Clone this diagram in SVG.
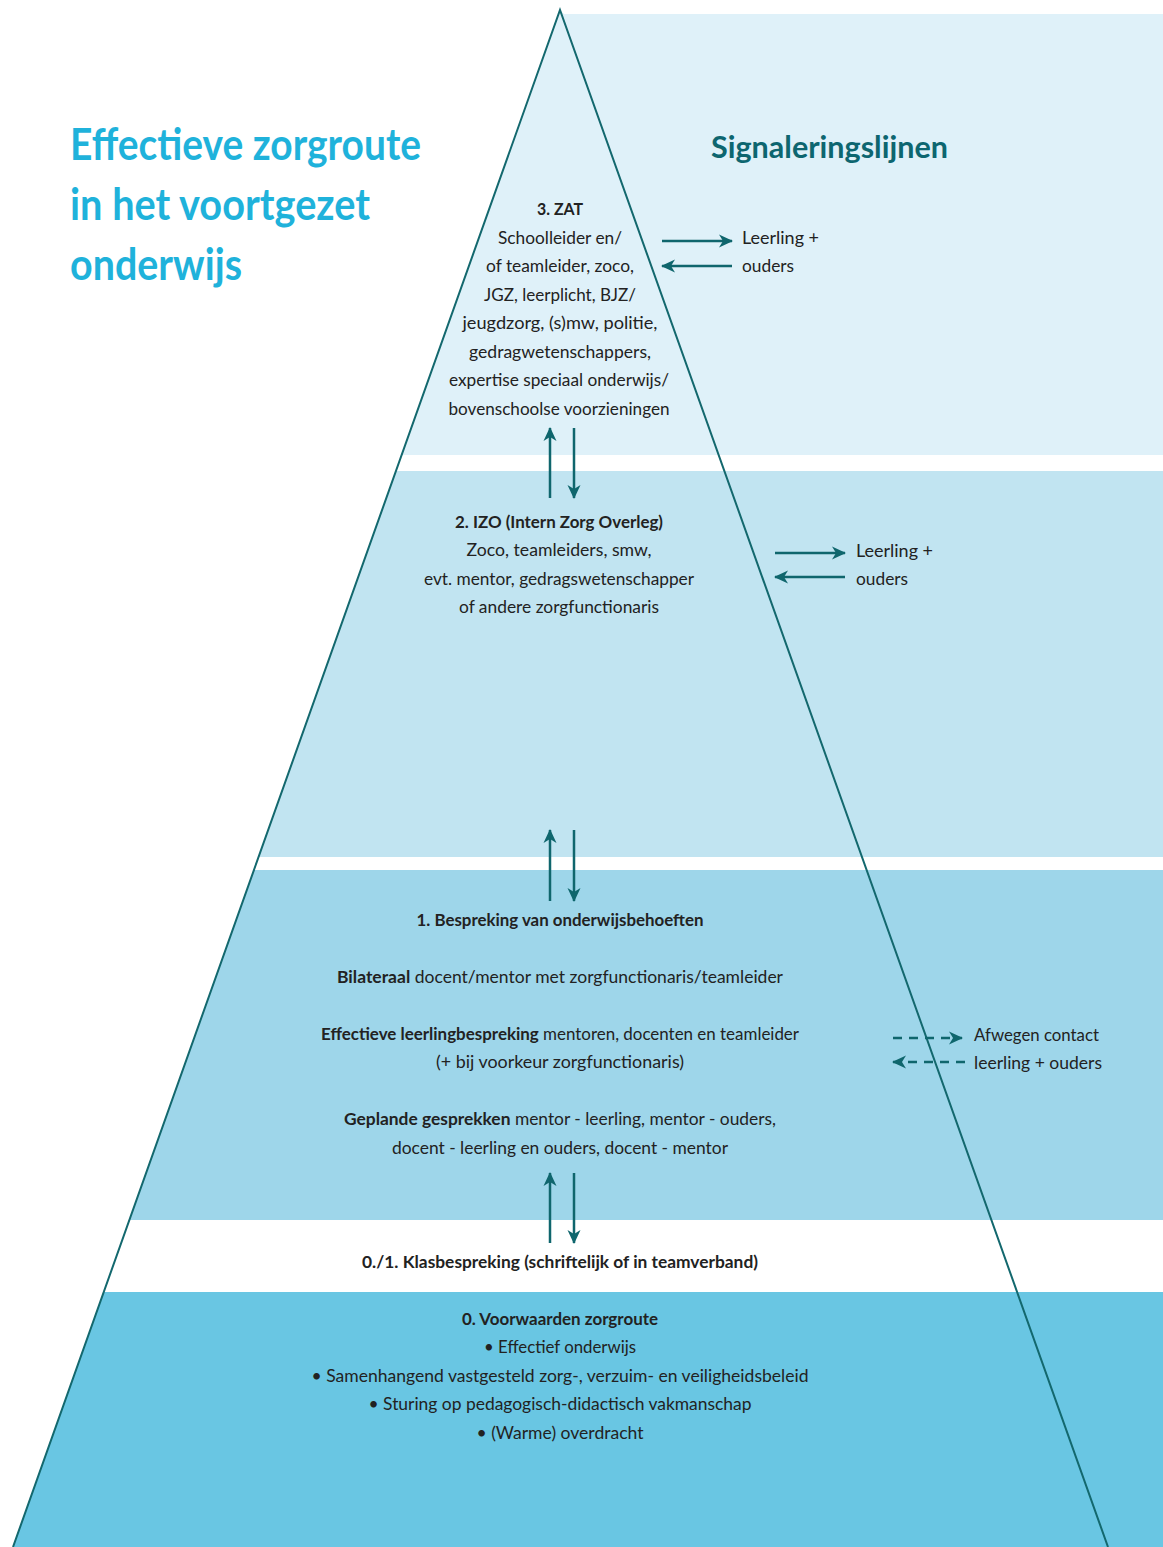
<svg xmlns="http://www.w3.org/2000/svg" width="1163" height="1547" viewBox="0 0 1163 1547">
<style>
.t{font-family:Lato,"Noto Sans","Liberation Sans",sans-serif;font-size:17px;fill:#222;text-anchor:middle}
.l{text-anchor:start}
.b{font-weight:bold}
.title{font-family:Lato,"Noto Sans","Liberation Sans",sans-serif;font-size:44px;font-weight:bold;fill:#1fb2db}
.sig{font-family:Lato,"Noto Sans","Liberation Sans",sans-serif;font-size:30px;font-weight:bold;fill:#0d6670}
.ar{stroke:#0f666d;stroke-width:2.5;fill:none}
.da{stroke:#0f666d;stroke-width:2.5;fill:none;stroke-dasharray:9 7}
</style>
<defs>
<marker id="ah" viewBox="0 0 14 14" refX="13" refY="7" markerWidth="14" markerHeight="14" orient="auto" markerUnits="userSpaceOnUse">
<path d="M0,0.5 L14,7 L0,13.5 L4,7 Z" fill="#0f666d"/>
</marker>
</defs>
<rect width="1163" height="1547" fill="#fff"/>
<g id="bands">
<polygon points="560,10 564,14 1163,14 1163,455 401.6,455" fill="#dff1f9"/>
<polygon points="395.9,471 1163,471 1163,857 258.6,857" fill="#c1e4f1"/>
<polygon points="254,870 1163,870 1163,1220 129.4,1220" fill="#9ed6ea"/>
<polygon points="103.7,1292 1163,1292 1163,1547 13,1547" fill="#69c6e3"/>
</g>
<g id="pyramid">
<polyline points="13,1547 560,10 1108,1547" fill="none" stroke="#13686e" stroke-width="2"/>
</g>
<g id="title">
<text class="title" x="70" y="160" textLength="351" lengthAdjust="spacingAndGlyphs">Effectieve zorgroute</text>
<text class="title" x="70" y="220" textLength="300" lengthAdjust="spacingAndGlyphs">in het voortgezet</text>
<text class="title" x="70" y="280" textLength="172" lengthAdjust="spacingAndGlyphs">onderwijs</text>
</g>
<g id="signaleringslijnen">
<text class="sig" x="711" y="158" textLength="237" lengthAdjust="spacingAndGlyphs">Signaleringslijnen</text>
</g>
<g id="zat">
<text class="t b" x="560" y="215" textLength="46" lengthAdjust="spacingAndGlyphs">3. ZAT</text>
<text class="t" x="560" y="244" textLength="124" lengthAdjust="spacingAndGlyphs">Schoolleider en/</text>
<text class="t" x="560" y="272" textLength="148" lengthAdjust="spacingAndGlyphs">of teamleider, zoco,</text>
<text class="t" x="560" y="301" textLength="152" lengthAdjust="spacingAndGlyphs">JGZ, leerplicht, BJZ/</text>
<text class="t" x="560" y="329" textLength="195" lengthAdjust="spacingAndGlyphs">jeugdzorg, (s)mw, politie,</text>
<text class="t" x="560" y="358" textLength="182" lengthAdjust="spacingAndGlyphs">gedragwetenschappers,</text>
<text class="t" x="559" y="386" textLength="220" lengthAdjust="spacingAndGlyphs">expertise speciaal onderwijs/</text>
<text class="t" x="559" y="415" textLength="221" lengthAdjust="spacingAndGlyphs">bovenschoolse voorzieningen</text>
</g>
<g id="zat-signal">
<text class="t l" x="742" y="244" textLength="77" lengthAdjust="spacingAndGlyphs">Leerling +</text>
<text class="t l" x="742" y="272" textLength="52" lengthAdjust="spacingAndGlyphs">ouders</text>
</g>
<g id="izo">
<text class="t b" x="559" y="528" textLength="208" lengthAdjust="spacingAndGlyphs">2. IZO (Intern Zorg Overleg)</text>
<text class="t" x="559" y="556" textLength="185" lengthAdjust="spacingAndGlyphs">Zoco, teamleiders, smw,</text>
<text class="t" x="559" y="585" textLength="270" lengthAdjust="spacingAndGlyphs">evt. mentor, gedragswetenschapper</text>
<text class="t" x="559" y="613" textLength="200" lengthAdjust="spacingAndGlyphs">of andere zorgfunctionaris</text>
</g>
<g id="izo-signal">
<text class="t l" x="856" y="557" textLength="77" lengthAdjust="spacingAndGlyphs">Leerling +</text>
<text class="t l" x="856" y="585" textLength="52" lengthAdjust="spacingAndGlyphs">ouders</text>
</g>
<g id="bespreking">
<text class="t b" x="560" y="926" textLength="287" lengthAdjust="spacingAndGlyphs">1. Bespreking van onderwijsbehoeften</text>
<text class="t" x="560" y="983" textLength="446" lengthAdjust="spacingAndGlyphs"><tspan class="b">Bilateraal</tspan> docent/mentor met zorgfunctionaris/teamleider</text>
<text class="t" x="560" y="1040" textLength="478" lengthAdjust="spacingAndGlyphs"><tspan class="b">Effectieve leerlingbespreking</tspan> mentoren, docenten en teamleider</text>
<text class="t" x="560" y="1068" textLength="248" lengthAdjust="spacingAndGlyphs">(+ bij voorkeur zorgfunctionaris)</text>
<text class="t" x="560" y="1125" textLength="432" lengthAdjust="spacingAndGlyphs"><tspan class="b">Geplande gesprekken</tspan> mentor - leerling, mentor - ouders,</text>
<text class="t" x="560" y="1154" textLength="336" lengthAdjust="spacingAndGlyphs">docent - leerling en ouders, docent - mentor</text>
</g>
<g id="bespreking-signal">
<text class="t l" x="974" y="1041" textLength="125" lengthAdjust="spacingAndGlyphs">Afwegen contact</text>
<text class="t l" x="974" y="1069" textLength="128" lengthAdjust="spacingAndGlyphs">leerling + ouders</text>
</g>
<g id="klasbespreking">
<text class="t b" x="560" y="1268" textLength="396" lengthAdjust="spacingAndGlyphs">0./1. Klasbespreking (schriftelijk of in teamverband)</text>
</g>
<g id="voorwaarden">
<text class="t b" x="560" y="1325" textLength="196" lengthAdjust="spacingAndGlyphs">0. Voorwaarden zorgroute</text>
<text class="t" x="560" y="1353" textLength="152" lengthAdjust="spacingAndGlyphs">• Effectief onderwijs</text>
<text class="t" x="560" y="1382" textLength="497" lengthAdjust="spacingAndGlyphs">• Samenhangend vastgesteld zorg-, verzuim- en veiligheidsbeleid</text>
<text class="t" x="560" y="1410" textLength="383" lengthAdjust="spacingAndGlyphs">• Sturing op pedagogisch-didactisch vakmanschap</text>
<text class="t" x="560" y="1439" textLength="167" lengthAdjust="spacingAndGlyphs">• (Warme) overdracht</text>
</g>
<g id="connectors">
<line class="ar" x1="662" y1="241" x2="732" y2="241" marker-end="url(#ah)"/>
<line class="ar" x1="732" y1="266" x2="662" y2="266" marker-end="url(#ah)"/>
<line class="ar" x1="550" y1="498" x2="550" y2="428" marker-end="url(#ah)"/>
<line class="ar" x1="574" y1="428" x2="574" y2="498" marker-end="url(#ah)"/>
<line class="ar" x1="775" y1="553" x2="845" y2="553" marker-end="url(#ah)"/>
<line class="ar" x1="845" y1="577" x2="775" y2="577" marker-end="url(#ah)"/>
<line class="ar" x1="550" y1="901" x2="550" y2="830" marker-end="url(#ah)"/>
<line class="ar" x1="574" y1="830" x2="574" y2="901" marker-end="url(#ah)"/>
<line class="ar" x1="550" y1="1243" x2="550" y2="1173" marker-end="url(#ah)"/>
<line class="ar" x1="574" y1="1173" x2="574" y2="1243" marker-end="url(#ah)"/>
<line class="da" x1="893" y1="1038" x2="962" y2="1038" marker-end="url(#ah)"/>
<line class="da" x1="965" y1="1062" x2="893" y2="1062" marker-end="url(#ah)"/>
</g>
</svg>
